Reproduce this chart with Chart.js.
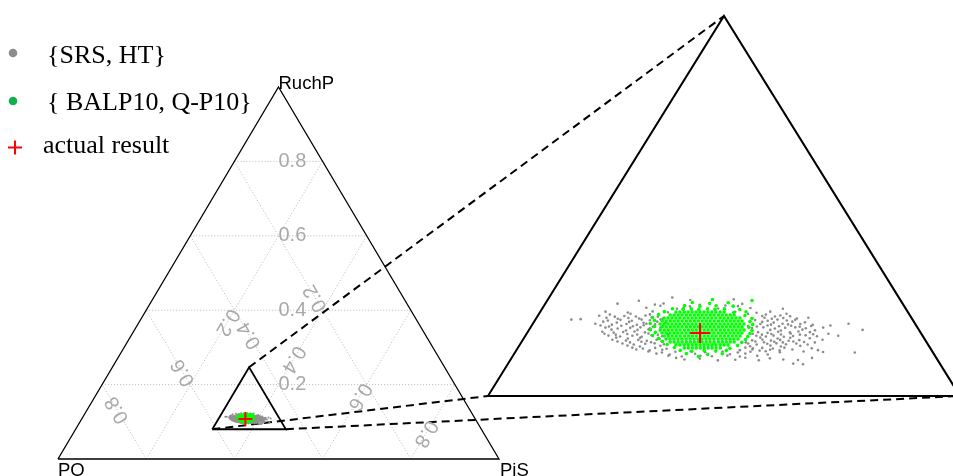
<!DOCTYPE html>
<html>
<head>
<meta charset="utf-8">
<script src="https://cdn.jsdelivr.net/npm/chart.js@4.4.1/dist/chart.umd.min.js"></script>
<style>
  html, body { margin: 0; padding: 0; background: #fff; }
</style>
</head>
<body>
<canvas id="myChart" width="953" height="476"></canvas>
<script>
// ternary values (PO = 1 - PiS - RuchP)
const vertexNames = ['PO', 'PiS', 'RuchP'];
const gridTicks = [0.2, 0.4, 0.6, 0.8];
const tickLabels = ['0.2', '0.4', '0.6', '0.8'];
const legendLabels = ['{SRS, HT}', '{ BALP10, Q-P10}', 'actual result'];

// zoomed region: lower left corner and side length
const zoomCorner = { PiS: 0.31, RuchP: 0.08 };
const zoomSide = 0.1667;

const srsPiS = [
  0.3535, 0.3424, 0.3604, 0.3756, 0.3355, 0.3489, 0.3517, 0.3648, 0.3796, 0.3466,
  0.3576, 0.3597, 0.3721, 0.3834, 0.3950, 0.3330, 0.3411, 0.3496, 0.3552, 0.3789,
  0.3866, 0.3912, 0.3352, 0.3423, 0.3493, 0.3839, 0.3903, 0.3974, 0.3317, 0.3374,
  0.3406, 0.3448, 0.3480, 0.3526, 0.3893, 0.3939, 0.3956, 0.3992, 0.3227, 0.3259,
  0.3358, 0.3401, 0.3443, 0.3475, 0.3506, 0.3542, 0.3877, 0.3923, 0.3955, 0.3990,
  0.4018, 0.3344, 0.3394, 0.3436, 0.3489, 0.3535, 0.3567, 0.3906, 0.3948, 0.4012,
  0.4058, 0.3321, 0.3381, 0.3431, 0.3470, 0.3501, 0.3533, 0.3565, 0.3904, 0.3943,
  0.3982, 0.4003, 0.4045, 0.4091, 0.4215, 0.3365, 0.3410, 0.3453, 0.3488, 0.3523,
  0.3559, 0.3884, 0.3922, 0.3965, 0.4000, 0.4035, 0.4074, 0.4134, 0.3391, 0.3444,
  0.3483, 0.3521, 0.3592, 0.3952, 0.3991, 0.4065, 0.4111, 0.3363, 0.3405, 0.3437,
  0.3476, 0.3515, 0.3550, 0.3914, 0.3949, 0.3984, 0.4027, 0.4055, 0.4097, 0.4278,
  0.3393, 0.3436, 0.3478, 0.3513, 0.3545, 0.3584, 0.3916, 0.3951, 0.3976, 0.4015,
  0.4046, 0.4089, 0.4131, 0.4205, 0.3425, 0.3468, 0.3510, 0.3581, 0.3934, 0.3997,
  0.4040, 0.4110, 0.3416, 0.3466, 0.3508, 0.3540, 0.3572, 0.3911, 0.3946, 0.3978,
  0.4009, 0.4041, 0.4077, 0.4158, 0.3460, 0.3502, 0.3541, 0.3573, 0.3608, 0.3904,
  0.3936, 0.3972, 0.4003, 0.4039, 0.4074, 0.4116, 0.3482, 0.3528, 0.3599, 0.3917,
  0.3987, 0.4026, 0.4093, 0.3504, 0.3543, 0.3585, 0.3627, 0.3903, 0.3931, 0.3963,
  0.4002, 0.4041, 0.4139, 0.3569, 0.3619, 0.3665, 0.3718, 0.3771, 0.3831, 0.3887,
  0.3930, 0.3983, 0.4035, 0.4117, 0.4187, 0.4300, 0.3602, 0.3651, 0.3739, 0.3863,
  0.3916, 0.3997, 0.3649, 0.3698, 0.3762, 0.3804, 0.3857, 0.3903, 0.3963, 0.3714,
  0.3834, 0.3894, 0.3978, 0.4063, 0.4116, 0.4107, 0.4143,
  0.3347, 0.3389, 0.3425, 0.3464, 0.3506, 0.3548, 0.3863, 0.3905, 0.3933, 0.3972, 0.4021, 0.4060,
  0.3343, 0.3375, 0.3417, 0.3459, 0.3495, 0.3530, 0.3565, 0.3865, 0.3897, 0.3933, 0.3975, 0.4017, 0.4049, 0.4088, 0.4155,
  0.3375, 0.3417, 0.3456, 0.3492, 0.3530, 0.3566, 0.3601, 0.3898, 0.3933, 0.3965, 0.4000, 0.4032, 0.4067, 0.4113, 0.4166,
  0.3438, 0.3484, 0.3523, 0.3558, 0.3593, 0.3893, 0.3925, 0.3957, 0.3992, 0.4024, 0.4059, 0.4098, 0.4137,
  0.3522, 0.3571, 0.3614, 0.3889, 0.3932, 0.3960, 0.3995, 0.4030, 0.4073, 0.4165,
  0.3511, 0.3617, 0.3740, 0.3786, 0.3681, 0.3766, 0.3925, 0.4013, 0.4161
];
const srsRuchP = [
  0.1232, 0.1218, 0.1221, 0.1224, 0.1205, 0.1201, 0.1206, 0.1200, 0.1204, 0.1187,
  0.1183, 0.1188, 0.1184, 0.1186, 0.1183, 0.1170, 0.1166, 0.1171, 0.1167, 0.1169,
  0.1165, 0.1170, 0.1157, 0.1161, 0.1158, 0.1160, 0.1157, 0.1161, 0.1152, 0.1148,
  0.1151, 0.1149, 0.1153, 0.1148, 0.1151, 0.1149, 0.1153, 0.1150, 0.1135, 0.1137,
  0.1131, 0.1134, 0.1130, 0.1135, 0.1132, 0.1136, 0.1133, 0.1130, 0.1135, 0.1131,
  0.1134, 0.1126, 0.1122, 0.1125, 0.1121, 0.1126, 0.1123, 0.1125, 0.1122, 0.1126,
  0.1123, 0.1117, 0.1113, 0.1116, 0.1112, 0.1117, 0.1114, 0.1118, 0.1116, 0.1113,
  0.1117, 0.1114, 0.1116, 0.1112, 0.1117, 0.1100, 0.1096, 0.1099, 0.1101, 0.1097,
  0.1100, 0.1098, 0.1101, 0.1096, 0.1099, 0.1101, 0.1097, 0.1100, 0.1091, 0.1087,
  0.1090, 0.1092, 0.1088, 0.1090, 0.1087, 0.1091, 0.1088, 0.1082, 0.1078, 0.1081,
  0.1083, 0.1079, 0.1082, 0.1080, 0.1077, 0.1082, 0.1079, 0.1083, 0.1080, 0.1090,
  0.1065, 0.1061, 0.1064, 0.1060, 0.1066, 0.1062, 0.1064, 0.1061, 0.1065, 0.1060,
  0.1063, 0.1066, 0.1062, 0.1064, 0.1056, 0.1052, 0.1055, 0.1051, 0.1056, 0.1052,
  0.1055, 0.1053, 0.1047, 0.1043, 0.1046, 0.1042, 0.1047, 0.1044, 0.1047, 0.1043,
  0.1046, 0.1042, 0.1045, 0.1047, 0.1030, 0.1026, 0.1029, 0.1031, 0.1027, 0.1030,
  0.1026, 0.1029, 0.1031, 0.1027, 0.1030, 0.1026, 0.1021, 0.1017, 0.1020, 0.1018,
  0.1021, 0.1017, 0.1020, 0.1012, 0.1008, 0.1011, 0.1007, 0.1012, 0.1009, 0.1011,
  0.1008, 0.1012, 0.1009, 0.0995, 0.0991, 0.0994, 0.0996, 0.0992, 0.0995, 0.0991,
  0.0994, 0.0996, 0.0992, 0.0995, 0.0993, 0.0991, 0.0986, 0.0982, 0.0985, 0.0983,
  0.0986, 0.0982, 0.0977, 0.0973, 0.0976, 0.0974, 0.0977, 0.0973, 0.0976, 0.0960,
  0.0956, 0.0959, 0.0957, 0.0960, 0.0958, 0.0942, 0.0939,
  0.1143, 0.1139, 0.1142, 0.1140, 0.1144, 0.1139, 0.1141, 0.1143, 0.1139, 0.1142, 0.1140, 0.1143,
  0.1109, 0.1105, 0.1108, 0.1106, 0.1110, 0.1104, 0.1108, 0.1107, 0.1105, 0.1109, 0.1106, 0.1108, 0.1104, 0.1107, 0.1109,
  0.1073, 0.1069, 0.1072, 0.1070, 0.1074, 0.1068, 0.1071, 0.1073, 0.1069, 0.1072, 0.1070, 0.1074, 0.1069, 0.1071, 0.1073,
  0.1039, 0.1035, 0.1038, 0.1036, 0.1040, 0.1035, 0.1039, 0.1036, 0.1038, 0.1035, 0.1039, 0.1037, 0.1035,
  0.1004, 0.1000, 0.1003, 0.1001, 0.1004, 0.0999, 0.1003, 0.1000, 0.1004, 0.1001,
  0.1196, 0.1193, 0.1197, 0.1194, 0.0967, 0.0964, 0.0968, 0.0965, 0.0967
];

const balpPiS = [
  0.3580, 0.3594, 0.3609, 0.3623, 0.3637, 0.3651, 0.3665, 0.3679, 0.3693, 0.3707, 0.3721, 0.3736, 0.3750,
  0.3566, 0.3580, 0.3594, 0.3608, 0.3623, 0.3637, 0.3651, 0.3665, 0.3679, 0.3693, 0.3707, 0.3721, 0.3736, 0.3750, 0.3764, 0.3778, 0.3792,
  0.3551, 0.3565, 0.3579, 0.3593, 0.3607, 0.3622, 0.3636, 0.3650, 0.3664, 0.3678, 0.3692, 0.3706, 0.3720, 0.3734, 0.3749, 0.3763, 0.3777, 0.3791, 0.3805, 0.3819,
  0.3551, 0.3565, 0.3579, 0.3593, 0.3607, 0.3621, 0.3636, 0.3650, 0.3664, 0.3678, 0.3692, 0.3706, 0.3720, 0.3734, 0.3749, 0.3763, 0.3777, 0.3791, 0.3805, 0.3819, 0.3833,
  0.3550, 0.3564, 0.3578, 0.3592, 0.3606, 0.3620, 0.3635, 0.3649, 0.3663, 0.3677, 0.3691, 0.3705, 0.3719, 0.3733, 0.3747, 0.3762, 0.3776, 0.3790, 0.3804, 0.3818, 0.3832, 0.3846,
  0.3564, 0.3578, 0.3592, 0.3606, 0.3620, 0.3634, 0.3649, 0.3663, 0.3677, 0.3691, 0.3705, 0.3719, 0.3733, 0.3747, 0.3762, 0.3776, 0.3790, 0.3804, 0.3818, 0.3832, 0.3846,
  0.3564, 0.3578, 0.3592, 0.3606, 0.3620, 0.3634, 0.3649, 0.3663, 0.3677, 0.3691, 0.3705, 0.3719, 0.3733, 0.3747, 0.3761, 0.3776, 0.3790, 0.3804, 0.3818, 0.3832, 0.3846, 0.3860,
  0.3577, 0.3591, 0.3605, 0.3619, 0.3633, 0.3647, 0.3662, 0.3676, 0.3690, 0.3704, 0.3718, 0.3732, 0.3746, 0.3760, 0.3775, 0.3789, 0.3803, 0.3817, 0.3831, 0.3845, 0.3859,
  0.3591, 0.3605, 0.3619, 0.3633, 0.3647, 0.3662, 0.3676, 0.3690, 0.3704, 0.3718, 0.3732, 0.3746, 0.3760, 0.3774, 0.3789, 0.3803, 0.3817, 0.3831, 0.3845, 0.3859,
  0.3604, 0.3618, 0.3632, 0.3646, 0.3660, 0.3675, 0.3689, 0.3703, 0.3717, 0.3731, 0.3745, 0.3759, 0.3773, 0.3788, 0.3802, 0.3816, 0.3830, 0.3844, 0.3858,
  0.3625, 0.3639, 0.3653, 0.3667, 0.3682, 0.3696, 0.3710, 0.3724, 0.3738, 0.3752, 0.3766, 0.3780, 0.3795, 0.3809, 0.3823, 0.3837, 0.3851,
  0.3652, 0.3666, 0.3681, 0.3695, 0.3709, 0.3723, 0.3737, 0.3751, 0.3765, 0.3779, 0.3793, 0.3808, 0.3822, 0.3836,
  0.3688, 0.3702, 0.3716, 0.3730, 0.3744, 0.3758, 0.3772, 0.3786, 0.3800, 0.3815,
  0.3681, 0.3823, 0.3617, 0.3680, 0.3744, 0.3596, 0.3652, 0.3708, 0.3769,
  0.3560, 0.3599, 0.3627, 0.3655, 0.3684, 0.3712, 0.3744, 0.3800,
  0.3538, 0.3785, 0.3827, 0.3524, 0.3831, 0.3509, 0.3862, 0.3523, 0.3862,
  0.3514, 0.3878, 0.3536, 0.3871, 0.3528, 0.3889, 0.3552, 0.3888, 0.3549, 0.3887,
  0.3576, 0.3886, 0.3597, 0.3879, 0.3620, 0.3871, 0.3652, 0.3850,
  0.3679, 0.3722, 0.3764, 0.3806, 0.3842, 0.3708, 0.3785, 0.3835, 0.3757
];
const balpRuchP = [
  0.1168, 0.1168, 0.1168, 0.1168, 0.1168, 0.1168, 0.1168, 0.1168, 0.1168, 0.1168, 0.1168, 0.1168, 0.1168,
  0.1155, 0.1155, 0.1155, 0.1155, 0.1155, 0.1155, 0.1155, 0.1155, 0.1155, 0.1155, 0.1155, 0.1155, 0.1155, 0.1155, 0.1155, 0.1155, 0.1155,
  0.1142, 0.1142, 0.1142, 0.1142, 0.1142, 0.1142, 0.1142, 0.1142, 0.1142, 0.1142, 0.1142, 0.1142, 0.1142, 0.1142, 0.1142, 0.1142, 0.1142, 0.1142, 0.1142, 0.1142,
  0.1129, 0.1129, 0.1129, 0.1129, 0.1129, 0.1129, 0.1129, 0.1129, 0.1129, 0.1129, 0.1129, 0.1129, 0.1129, 0.1129, 0.1129, 0.1129, 0.1129, 0.1129, 0.1129, 0.1129, 0.1129,
  0.1116, 0.1116, 0.1116, 0.1116, 0.1116, 0.1116, 0.1116, 0.1116, 0.1116, 0.1116, 0.1116, 0.1116, 0.1116, 0.1116, 0.1116, 0.1116, 0.1116, 0.1116, 0.1116, 0.1116, 0.1116, 0.1116,
  0.1103, 0.1103, 0.1103, 0.1103, 0.1103, 0.1103, 0.1103, 0.1103, 0.1103, 0.1103, 0.1103, 0.1103, 0.1103, 0.1103, 0.1103, 0.1103, 0.1103, 0.1103, 0.1103, 0.1103, 0.1103,
  0.1089, 0.1089, 0.1089, 0.1089, 0.1089, 0.1089, 0.1089, 0.1089, 0.1089, 0.1089, 0.1089, 0.1089, 0.1089, 0.1089, 0.1089, 0.1089, 0.1089, 0.1089, 0.1089, 0.1089, 0.1089, 0.1089,
  0.1076, 0.1076, 0.1076, 0.1076, 0.1076, 0.1076, 0.1076, 0.1076, 0.1076, 0.1076, 0.1076, 0.1076, 0.1076, 0.1076, 0.1076, 0.1076, 0.1076, 0.1076, 0.1076, 0.1076, 0.1076,
  0.1063, 0.1063, 0.1063, 0.1063, 0.1063, 0.1063, 0.1063, 0.1063, 0.1063, 0.1063, 0.1063, 0.1063, 0.1063, 0.1063, 0.1063, 0.1063, 0.1063, 0.1063, 0.1063, 0.1063,
  0.1050, 0.1050, 0.1050, 0.1050, 0.1050, 0.1050, 0.1050, 0.1050, 0.1050, 0.1050, 0.1050, 0.1050, 0.1050, 0.1050, 0.1050, 0.1050, 0.1050, 0.1050, 0.1050,
  0.1037, 0.1037, 0.1037, 0.1037, 0.1037, 0.1037, 0.1037, 0.1037, 0.1037, 0.1037, 0.1037, 0.1037, 0.1037, 0.1037, 0.1037, 0.1037, 0.1037,
  0.1024, 0.1024, 0.1024, 0.1024, 0.1024, 0.1024, 0.1024, 0.1024, 0.1024, 0.1024, 0.1024, 0.1024, 0.1024, 0.1024,
  0.1011, 0.1011, 0.1011, 0.1011, 0.1011, 0.1011, 0.1011, 0.1011, 0.1011, 0.1011,
  0.1223, 0.1219, 0.1210, 0.1206, 0.1209, 0.1197, 0.1193, 0.1196, 0.1194,
  0.1183, 0.1180, 0.1182, 0.1179, 0.1183, 0.1180, 0.1182, 0.1179,
  0.1170, 0.1166, 0.1169, 0.1157, 0.1153, 0.1144, 0.1140, 0.1131, 0.1127,
  0.1118, 0.1114, 0.1105, 0.1101, 0.1091, 0.1087, 0.1078, 0.1074, 0.1065, 0.1061,
  0.1052, 0.1048, 0.1039, 0.1035, 0.1026, 0.1022, 0.1013, 0.1009,
  0.1000, 0.0996, 0.0999, 0.0997, 0.1000, 0.0986, 0.0982, 0.0985, 0.0973
];

const actualPiS = [0.3711];
const actualRuchP = [0.1076];

// where the zoomed copy sits, in chart units
const inset = { x: 0.975, y: 0.1694, w: 1.0703, h: 1.0215 };

var ctx = document.getElementById('myChart').getContext('2d');

function tern(pis, ruchp) {
    return { x: pis + ruchp / 2, y: ruchp };
}
const zc = tern(zoomCorner.PiS, zoomCorner.RuchP);
function zoomed(pis, ruchp) {
    const p = tern(pis, ruchp);
    return {
        x: inset.x + inset.w * (p.x - zc.x) / zoomSide,
        y: inset.y + inset.h * (p.y - zc.y) / zoomSide
    };
}
function pts(pisArr, ruchArr, fn) {
    return pisArr.map((v, i) => fn(v, ruchArr[i]));
}
function lineSet(data, extra) {
    return Object.assign({
        data: data, showLine: true, pointRadius: 0, borderColor: '#000',
        borderWidth: 1.3, fill: false, tension: 0, order: 6
    }, extra);
}

const corners = [[0, 0], [1, 0], [0, 1], [0, 0]];
const zoomCorners = [
    [zoomCorner.PiS, zoomCorner.RuchP],
    [zoomCorner.PiS + zoomSide, zoomCorner.RuchP],
    [zoomCorner.PiS, zoomCorner.RuchP + zoomSide],
    [zoomCorner.PiS, zoomCorner.RuchP]
];

const datasets = [];
gridTicks.forEach(t => {
    const g = { borderColor: '#b8b8b8', borderWidth: 1, borderDash: [1, 2], order: 10 };
    datasets.push(lineSet([tern(0, t), tern(1 - t, t)], g));
    datasets.push(lineSet([tern(t, 0), tern(t, 1 - t)], g));
    datasets.push(lineSet([tern(1 - t, 0), tern(0, 1 - t)], g));
});
datasets.push(lineSet(corners.map(c => tern(c[0], c[1])), { borderWidth: 1.3 }));
datasets.push(lineSet(zoomCorners.map(c => tern(c[0], c[1])), { borderWidth: 1.8 }));
datasets.push(lineSet(zoomCorners.map(c => zoomed(c[0], c[1])), { borderWidth: 2 }));
zoomCorners.slice(0, 3).forEach(c => {
    datasets.push(lineSet([tern(c[0], c[1]), zoomed(c[0], c[1])], { borderWidth: 2, borderDash: [8, 5], order: 7 }));
});

function cloud(data, color, r, order) {
    return { data: data, pointRadius: r, pointBackgroundColor: color, pointBorderWidth: 0, order: order };
}
datasets.push(cloud(pts(srsPiS, srsRuchP, tern), '#909090', 1, 4));
datasets.push(cloud(pts(srsPiS, srsRuchP, zoomed), '#8c8c8c', 1.3, 4));
datasets.push(cloud(pts(balpPiS, balpRuchP, tern), '#00ff00', 1.2, 3));
datasets.push(cloud(pts(balpPiS, balpRuchP, zoomed), '#00ff00', 1.8, 3));
datasets.push({ data: pts(actualPiS, actualRuchP, tern), pointStyle: 'cross', pointRadius: 7,
    pointBorderColor: '#ff0000', pointBorderWidth: 2, order: 1 });
datasets.push({ data: pts(actualPiS, actualRuchP, zoomed), pointStyle: 'cross', pointRadius: 10,
    pointBorderColor: '#ff0000', pointBorderWidth: 2, order: 1 });

const textPlugin = {
    id: 'ternaryText',
    afterDatasetsDraw(chart) {
        const c = chart.ctx;
        const xs = chart.scales.x, ys = chart.scales.y;
        const px = p => ({ x: xs.getPixelForValue(p.x), y: ys.getPixelForValue(p.y) });
        c.save();

        // axis tick labels, running along their grid lines
        c.font = '20px "Liberation Sans", Arial, sans-serif';
        c.fillStyle = '#a9a9a9';
        c.textAlign = 'left';
        c.textBaseline = 'middle';
        gridTicks.forEach((t, i) => {
            const m = (1 - t) / 2;
            const specs = [
                [tern(m, t), tern(0, t), tern(1 - t, t)],
                [tern(m, m), tern(1 - t, 0), tern(0, 1 - t)],
                [tern(t, m), tern(t, 1 - t), tern(t, 0)]
            ];
            specs.forEach(s => {
                const a = px(s[0]), f = px(s[1]), e = px(s[2]);
                c.save();
                c.translate(a.x, a.y);
                c.rotate(Math.atan2(e.y - f.y, e.x - f.x));
                c.fillText(tickLabels[i], 0, 0);
                c.restore();
            });
        });

        // vertex names
        c.fillStyle = '#000';
        c.font = '18.5px "Liberation Sans", Arial, sans-serif';
        c.textBaseline = 'alphabetic';
        const left = px(tern(0, 0)), right = px(tern(1, 0)), top = px(tern(0, 1));
        c.fillText(vertexNames[0], left.x, left.y + 17);
        c.fillText(vertexNames[1], right.x + 1, right.y + 16.5);
        c.fillText(vertexNames[2], top.x, top.y + 1.5);

        // legend
        c.font = '26px "Liberation Serif", "Times New Roman", serif';
        c.fillStyle = '#8c8c8c';
        c.beginPath(); c.arc(13, 53, 4.3, 0, Math.PI * 2); c.fill();
        c.fillStyle = '#12b04c';
        c.beginPath(); c.arc(13, 101, 4.3, 0, Math.PI * 2); c.fill();
        c.strokeStyle = '#ff0000';
        c.lineWidth = 2;
        c.beginPath();
        c.moveTo(8, 147.5); c.lineTo(22, 147.5);
        c.moveTo(15, 140.5); c.lineTo(15, 154.5);
        c.stroke();
        c.fillStyle = '#000';
        c.fillText(legendLabels[0], 47, 62.5);
        c.fillText(legendLabels[1], 47, 109.5);
        c.fillText(legendLabels[2], 43, 153);

        c.restore();
    }
};

new Chart(ctx, {
    type: 'scatter',
    data: { datasets: datasets },
    options: {
        responsive: false,
        animation: false,
        events: [],
        layout: { padding: 0, autoPadding: false },
        plugins: {
            legend: { display: false },
            tooltip: { enabled: false }
        },
        scales: {
            x: { type: 'linear', display: false, min: -0.1315, max: 2.0295 },
            y: { type: 'linear', display: false, min: -0.0457, max: 1.2339 }
        }
    },
    plugins: [textPlugin]
});
</script>
</body>
</html>
